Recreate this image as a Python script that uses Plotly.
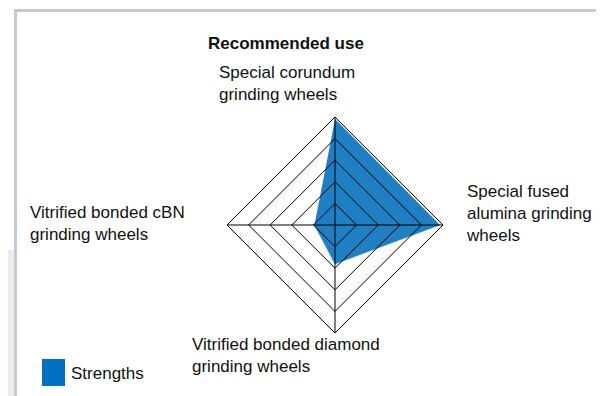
import plotly.graph_objects as go

# axes of the radar, clockwise from the top
categories = [
    "Special corundum grinding wheels",
    "Special fused alumina grinding wheels",
    "Vitrified bonded diamond grinding wheels",
    "Vitrified bonded cBN grinding wheels",
]
strengths = [4.9, 4.85, 1.8, 0.95]
ring_levels = [1, 2, 3, 4, 5]

# the page body keeps its default 8px margin, so the figure is drawn 8px in
OFF = 8
W, H = 604 - OFF, 396 - OFF
FONT = "Liberation Sans, Arial, sans-serif"
BLUE = "#1f7fc2"


def px(x):
    return (x - OFF) / W


def py(y):
    return 1 - (y - OFF) / H


def get_chart():
    fig = go.Figure()

    # filled strengths shape
    fig.add_trace(
        go.Scatterpolar(
            r=strengths,
            theta=categories,
            fill="toself",
            fillcolor=BLUE,
            line=dict(color=BLUE, width=0.5),
            mode="lines",
            name="Strengths",
            subplot="polar",
            hoverinfo="skip",
        )
    )
    # empty trace so the grid overlay (polar2) gets its categories
    fig.add_trace(
        go.Scatterpolar(
            r=[0] * len(categories),
            theta=categories,
            mode="lines",
            line=dict(width=0),
            subplot="polar2",
            hoverinfo="skip",
        )
    )

    dom = dict(x=[px(227), px(443)], y=[py(333), py(117)])
    fig.update_layout(
        width=W,
        height=H,
        margin=dict(l=0, r=0, t=0, b=0),
        paper_bgcolor="white",
        showlegend=False,
        font=dict(family=FONT, size=17, color="#111111"),
        polar=dict(
            domain=dom,
            gridshape="linear",
            bgcolor="white",
            radialaxis=dict(range=[0, 5], visible=False),
            angularaxis=dict(
                direction="clockwise",
                rotation=90,
                showgrid=False,
                showline=False,
                showticklabels=False,
                ticks="",
            ),
        ),
        polar2=dict(
            domain=dom,
            gridshape="linear",
            bgcolor="rgba(0,0,0,0)",
            radialaxis=dict(
                range=[0, 5],
                tickvals=ring_levels,
                showticklabels=False,
                ticks="",
                showline=False,
                gridcolor="black",
                gridwidth=1,
            ),
            angularaxis=dict(
                direction="clockwise",
                rotation=90,
                showgrid=True,
                gridcolor="black",
                gridwidth=1,
                showline=True,
                linecolor="black",
                linewidth=1,
                showticklabels=False,
                ticks="",
            ),
        ),
    )

    # frame and the grey strip on the left
    fig.add_shape(type="rect", xref="paper", yref="paper",
                  x0=0, x1=px(14), y0=py(400), y1=py(250),
                  fillcolor="#eeedeb", line=dict(width=0), layer="below")
    fig.add_shape(type="rect", xref="paper", yref="paper",
                  x0=px(15.5), x1=px(601.5), y0=py(402), y1=py(10.5),
                  line=dict(color="#c3cbd1", width=3))

    # legend swatch
    fig.add_shape(type="rect", xref="paper", yref="paper",
                  x0=px(42), x1=px(65), y0=py(386), y1=py(359),
                  fillcolor="#0070c0", line=dict(width=0))

    labels = [
        ("<b>Recommended use</b>", 286, 43, "center"),
        ("Special corundum<br>grinding wheels", 217, 84, "left"),
        ("Special fused<br>alumina grinding<br>wheels", 464, 213, "left"),
        ("Vitrified bonded cBN<br>grinding wheels", 28, 223, "left"),
        ("Vitrified bonded diamond<br>grinding wheels", 190, 355, "left"),
        ("Strengths", 69, 373, "left"),
    ]
    for text, x, y, align in labels:
        fig.add_annotation(
            text=text, xref="paper", yref="paper",
            x=px(x), y=py(y),
            xanchor="center" if align == "center" else "left",
            yanchor="middle", align=align, showarrow=False,
        )

    return fig


def main():
    fig = get_chart()
    fig.write_html("out.html")


if __name__ == "__main__":
    main()
